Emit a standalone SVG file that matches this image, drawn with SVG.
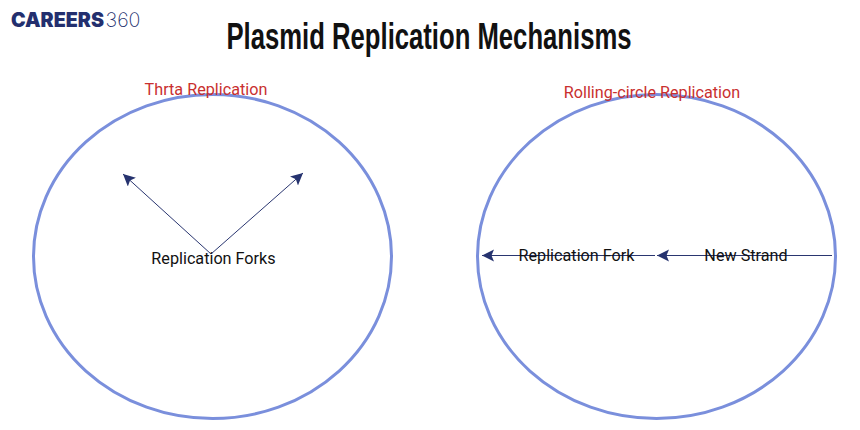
<svg xmlns="http://www.w3.org/2000/svg" width="860" height="430" viewBox="0 0 860 430">
  <style>
    .ring { fill: none; stroke: #7a8fdc; stroke-width: 3; }
    .lead { stroke: #2a3670; stroke-width: 1; fill: none; marker-end: url(#head); }
    .label { font-family: Roboto, "Liberation Sans", sans-serif; font-size: 16.2px; fill: #111111; text-anchor: middle; }
    .caption { font-family: Roboto, "Liberation Sans", sans-serif; font-size: 16.2px; fill: #c9302f; text-anchor: middle; }
  </style>
  <defs>
    <marker id="head" markerUnits="userSpaceOnUse" markerWidth="14" markerHeight="14" refX="12" refY="6" orient="auto">
      <path d="M0 0L12 6L0 12L2.500 6Z" fill="#26336f"/>
    </marker>
  </defs>
  <rect width="860" height="430" fill="#ffffff"/>

  <g id="brand">
    <text x="11" y="27" font-family="Inter, 'Liberation Sans', sans-serif" font-size="20" font-weight="900" fill="#232f6e" textLength="93" lengthAdjust="spacingAndGlyphs">CAREERS</text>
    <text x="105.500" y="27" font-family="Inter, 'Liberation Sans', sans-serif" font-size="20" font-weight="200" fill="#232f6e" textLength="35" lengthAdjust="spacingAndGlyphs">360</text>
  </g>
  <text id="title" x="429" y="49" font-family="'Liberation Sans Narrow', 'Liberation Sans', sans-serif" font-size="37.500" font-weight="700" fill="#111111" text-anchor="middle" textLength="405" lengthAdjust="spacingAndGlyphs">Plasmid Replication Mechanisms</text>

  <g id="theta">
    <ellipse class="ring" cx="212.500" cy="256.500" rx="179" ry="162"/>
    <text class="caption" x="206" y="95">Thrta Replication</text>
  </g>
  <g id="rolling-circle">
    <ellipse class="ring" cx="656.500" cy="256.500" rx="179" ry="162"/>
    <text class="caption" x="652" y="98">Rolling-circle Replication</text>
  </g>

  <g id="connectors">
    <line class="lead" x1="211" y1="254" x2="123" y2="174"/>
    <line class="lead" x1="211" y1="254" x2="303" y2="173"/>
    <line class="lead" x1="655" y1="255.500" x2="482" y2="255.500"/>
    <line class="lead" x1="832" y1="255.500" x2="657" y2="255.500"/>
  </g>

  <g id="fork-labels">
    <text class="label" x="213.500" y="264">Replication Forks</text>
  </g>
  <g id="fork-label">
    <text class="label" x="576.500" y="261">Replication Fork</text>
  </g>
  <g id="strand-label">
    <text class="label" x="746" y="261">New Strand</text>
  </g>
</svg>
